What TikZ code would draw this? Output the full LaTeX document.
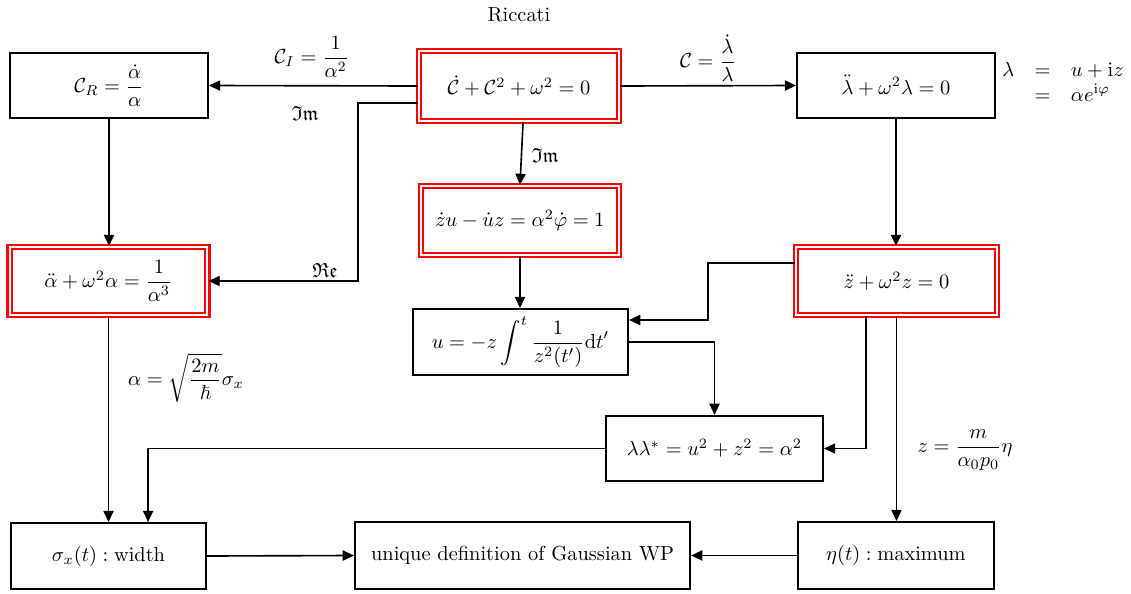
\documentclass[tikz,border=0pt]{standalone}
\usepackage{amsmath,amssymb}
\usetikzlibrary{arrows.meta,calc}
\begin{document}
\begin{tikzpicture}[x=0.49pt,y=-0.49pt,
  box/.style={draw,line width=1.2pt,rectangle,inner sep=0pt,align=center},
  dbox/.style={draw=red,double=white,line width=1pt,double distance=1pt,rectangle,inner sep=0pt,align=center},
  arr/.style={-{Triangle[length=5.5pt,width=5pt]},line width=0.8pt},
  thinarr/.style={-{Triangle[length=5.5pt,width=5pt]},line width=0.6pt},
  lbl/.style={inner sep=1pt}]
\useasboundingbox (0,0) rectangle (1131,593);

% boxes
\node[box,minimum width=96.8pt,minimum height=31.7pt] (CR) at (109,85.5) {$\mathcal{C}_R=\dfrac{\dot\alpha}{\alpha}$};
\node[dbox,minimum width=98pt,minimum height=34.3pt] (Ric) at (519,86) {$\dot{\mathcal{C}}+\mathcal{C}^2+\omega^2=0$};
\node[box,minimum width=96.8pt,minimum height=31.7pt] (lam) at (896,85.5) {$\ddot\lambda+\omega^2\lambda=0$};
\node[dbox,minimum width=97pt,minimum height=33.3pt] (alpha) at (108.5,281) {$\ddot\alpha+\omega^2\alpha=\dfrac{1}{\alpha^3}$};
\node[dbox,minimum width=97pt,minimum height=33.8pt] (zu) at (520,220.5) {$\dot z u-\dot u z=\alpha^2\dot\varphi=1$};
\node[dbox,minimum width=98.5pt,minimum height=33.3pt] (zdd) at (896.5,281) {$\ddot z+\omega^2 z=0$};
\node[box,minimum width=105.2pt,minimum height=32.1pt] (uu) at (520.5,342) {$u=-z\displaystyle\int^t\frac{1}{z^2(t')}\mathrm{d}t'$};
\node[box,minimum width=106.1pt,minimum height=31.7pt] (ll) at (714.5,448.5) {$\lambda\lambda^*=u^2+z^2=\alpha^2$};
\node[box,minimum width=95.4pt,minimum height=32.1pt] (sig) at (108.5,556) {$\sigma_x(t):\mathrm{width}$};
\node[box,minimum width=164pt,minimum height=32.6pt] (uniq) at (522.5,555.5) {unique definition of Gaussian WP};
\node[box,minimum width=95.8pt,minimum height=32.6pt] (eta) at (896,555.5) {$\eta(t):\mathrm{maximum}$};

% labels
\node[lbl] (tRic) at (519,15) {Riccati};
\node[lbl] (tCI) at (312,57) {$\mathcal{C}_I=\dfrac{1}{\alpha^2}$};
\node[lbl] (tC) at (708,58) {$\mathcal{C}=\dfrac{\dot\lambda}{\lambda}$};
\node[lbl] (tIm1) at (305,113) {$\mathfrak{Im}$};
\node[lbl] (tIm2) at (545,155) {$\mathfrak{Im}$};
\node[lbl] (tRe) at (325,270) {$\mathfrak{Re}$};
\node[lbl] (tal) at (186,378) {$\alpha=\sqrt{\dfrac{2m}{\hbar}}\sigma_x$};
\node[lbl] (tz) at (965,450) {$z=\dfrac{m}{\alpha_0p_0}\eta$};
\node[lbl] (tlam) at (1063,84) {$\begin{array}{rcl}\lambda&=&u+\mathrm{i}z\\&=&\alpha e^{\mathrm{i}\varphi}\end{array}$};

% connectors
\coordinate (k1) at (358,281);
\coordinate (k2) at (708,320);
\draw[arr] (Ric.west) -- (CR.east);
\draw[arr] (Ric.east) -- (lam.west);
\draw[arr] ([xshift=2pt]Ric.south) -- (zu.north);
\draw[thinarr] ([yshift=-8.3pt]Ric.west) -| (k1) -- (alpha.east);
\draw[arr] (CR.south) -- (CR.south |- alpha.north);
\draw[arr] (lam.south) -- (lam.south |- zdd.north);
\draw[arr] (zu.south) -- (zu.south |- uu.north);
\draw[thinarr] ([yshift=8.8pt]zdd.west) -| (k2) -- (k2 -| uu.east);
\draw[thinarr] (uu.east) -| (ll.north);
\draw[thinarr] ([xshift=-14.9pt]zdd.south) |- (ll.east);
\draw[arr] (zdd.south) -- (zdd.south |- eta.north);
\draw[arr] (alpha.south) -- (alpha.south |- sig.north);
\draw[thinarr] (ll.west) -| ([xshift=19.4pt]sig.north);
\draw[arr] (sig.east) -- (uniq.west);
\draw[arr] (eta.west) -- (uniq.east);
\end{tikzpicture}
\end{document}
